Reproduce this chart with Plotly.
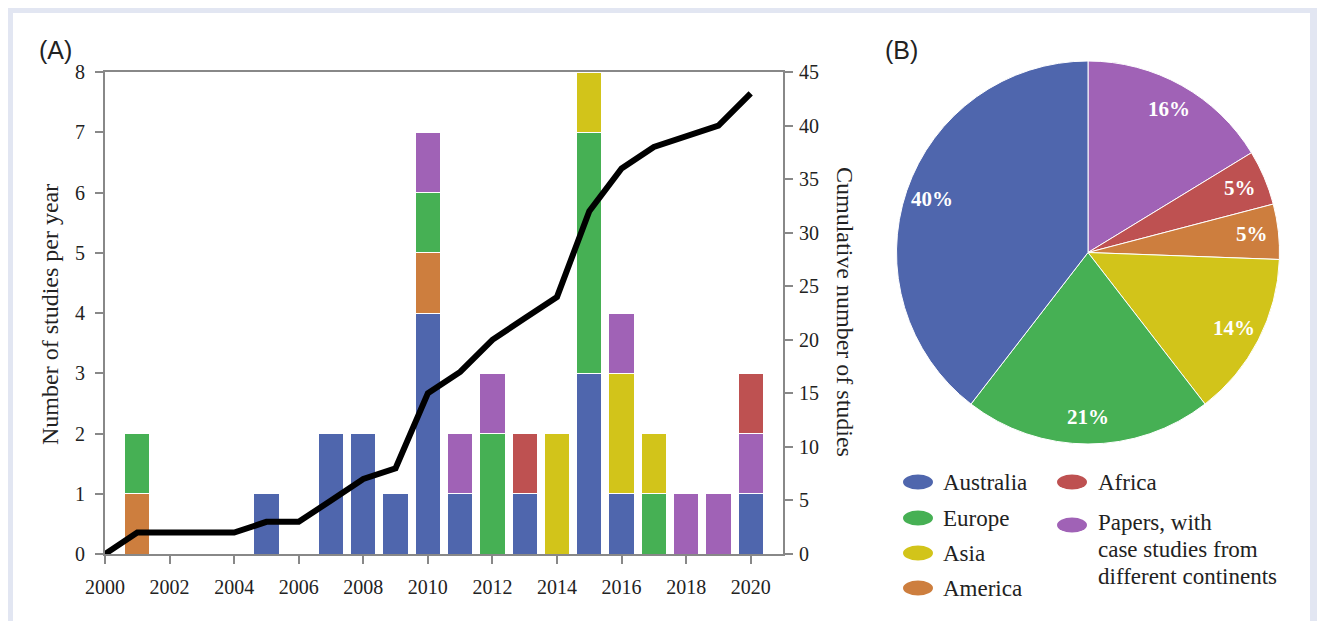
import math
import plotly.graph_objects as go

# ---- data -------------------------------------------------------------
years = list(range(2000, 2021))

# studies per year by region (stack order bottom -> top)
australia = [0, 0, 0, 0, 0, 1, 0, 2, 2, 1, 4, 1, 0, 1, 0, 3, 1, 0, 0, 0, 1]
america   = [0, 1, 0, 0, 0, 0, 0, 0, 0, 0, 1, 0, 0, 0, 0, 0, 0, 0, 0, 0, 0]
europe    = [0, 1, 0, 0, 0, 0, 0, 0, 0, 0, 1, 0, 2, 0, 0, 4, 0, 1, 0, 0, 0]
asia      = [0, 0, 0, 0, 0, 0, 0, 0, 0, 0, 0, 0, 0, 0, 2, 1, 2, 1, 0, 0, 0]
papers    = [0, 0, 0, 0, 0, 0, 0, 0, 0, 0, 1, 1, 1, 0, 0, 0, 1, 0, 1, 1, 1]
africa    = [0, 0, 0, 0, 0, 0, 0, 0, 0, 0, 0, 0, 0, 1, 0, 0, 0, 0, 0, 0, 1]

cumulative = [0, 2, 2, 2, 2, 3, 3, 5, 7, 8, 15, 17, 20, 22, 24, 32, 36, 38, 39, 40, 43]

# pie slices, clockwise from 12 o'clock
pie_labels = ["Papers", "Africa", "America", "Asia", "Europe", "Australia"]
pie_counts = [7, 2, 2, 6, 9, 17]

# legend entries: (key, text lines)
legend_col1 = [("Australia", ["Australia"]), ("Europe", ["Europe"]),
               ("Asia", ["Asia"]), ("America", ["America"])]
legend_col2 = [("Africa", ["Africa"]),
               ("Papers", ["Papers, with", "case studies from", "different continents"])]

x_ticks = list(range(2000, 2021, 2))

# ---- styling ----------------------------------------------------------
colors = {
    "Australia": "#4f66ad",
    "Europe": "#46b054",
    "Asia": "#d2c41a",
    "America": "#cd7e3e",
    "Africa": "#be5151",
    "Papers": "#a062b6",
}
W, H = 1317, 621
SERIF = "Liberation Serif, Times New Roman, Times, serif"
SANS = "Liberation Sans, Arial, Helvetica, sans-serif"
INK = "#222222"
AXIS = "#888888"


def px(x):
    return x / W


def py(y):
    return 1 - y / H


fig = go.Figure()

stacks = [("Australia", australia), ("America", america), ("Europe", europe),
          ("Asia", asia), ("Papers", papers), ("Africa", africa)]
for name, vals in stacks:
    fig.add_trace(go.Bar(
        x=years, y=[v if v else None for v in vals], name=name,
        marker=dict(color=colors[name], line=dict(color="white", width=1)),
        width=0.78, showlegend=False, yaxis="y",
    ))

fig.add_trace(go.Scatter(
    x=years, y=cumulative, mode="lines", yaxis="y2",
    line=dict(color="black", width=6), showlegend=False,
))

# pie geometry (pixels)
PIE_CX, PIE_CY, PIE_R = 1088, 252.5, 191.5
fig.add_trace(go.Pie(
    labels=pie_labels, values=pie_counts, sort=False, direction="clockwise",
    rotation=0, marker=dict(colors=[colors[k] for k in pie_labels],
                            line=dict(color="white", width=1)),
    textinfo="none", hoverinfo="label+percent",
    domain=dict(x=[px(PIE_CX - PIE_R), px(PIE_CX + PIE_R)],
                y=[py(PIE_CY + PIE_R), py(PIE_CY - PIE_R)]),
    showlegend=False,
))

# percentage labels placed along each slice's mid-angle
total = sum(pie_counts)
start = 0.0
for count in pie_counts:
    frac = count / total
    mid = (start + frac / 2) * 2 * math.pi
    start += frac
    r = 0.86 * PIE_R
    lx = PIE_CX + r * math.sin(mid)
    ly = PIE_CY - r * math.cos(mid)
    fig.add_annotation(text=f"{round(frac * 100)}%", x=px(lx), y=py(ly),
                       xref="paper", yref="paper", showarrow=False,
                       xanchor="center", yanchor="middle",
                       font=dict(family=SERIF, size=21, color="white",
                                 weight="bold"))

axis_common = dict(showline=True, linecolor=AXIS, linewidth=2,
                   ticks="outside", ticklen=8, tickcolor=AXIS, tickwidth=1.5,
                   showgrid=False, zeroline=False, automargin=False,
                   tickfont=dict(family=SERIF, size=20, color=INK))

fig.update_layout(
    width=W, height=H,
    margin=dict(l=0, r=0, t=0, b=0, pad=0, autoexpand=False),
    paper_bgcolor="white", plot_bgcolor="white",
    barmode="stack",
    xaxis=dict(domain=[px(105), px(783)], range=[2000, 2021],
               tickvals=x_ticks, mirror=True, ticklabelstandoff=6,
               **axis_common),
    yaxis=dict(domain=[py(554), py(72)], range=[0, 8], dtick=1,
               mirror=True, ticklabelstandoff=6, **axis_common),
    yaxis2=dict(overlaying="y", side="right", range=[0, 45], dtick=5,
                anchor="x", ticklabelstandoff=2, **axis_common),
)

# page frame
fig.add_shape(type="rect", xref="paper", yref="paper",
              x0=px(8), x1=px(1317), y0=py(621), y1=py(8),
              fillcolor="#e2e6f2", line=dict(width=0), layer="below")
fig.add_shape(type="rect", xref="paper", yref="paper",
              x0=px(13), x1=px(1310), y0=py(621), y1=py(13),
              fillcolor="white", line=dict(width=0), layer="below")


def note(text, x, y, font, angle=0, xanchor="center"):
    fig.add_annotation(text=text, x=px(x), y=py(y), xref="paper",
                       yref="paper", showarrow=False, textangle=angle,
                       xanchor=xanchor, yanchor="middle", font=font)


# panel tags
note("(A)", 55, 50, dict(family=SANS, size=25, color=INK))
note("(B)", 901, 50, dict(family=SANS, size=25, color=INK))

# axis titles
note("Number of studies per year", 50, 315,
     dict(family=SERIF, size=24, color=INK), angle=-90)
note("Cumulative number of studies", 845, 312,
     dict(family=SERIF, size=24, color=INK), angle=90)

# legend under the pie
LEG_FONT = dict(family=SERIF, size=23, color=INK)
row_y = [482, 518, 553, 588]
line_gap = 27


def legend_entry(key, lines, cx, tx, y_marker, y_text):
    fig.add_shape(type="circle", xref="paper", yref="paper",
                  x0=px(cx - 15), x1=px(cx + 15),
                  y0=py(y_marker + 7.5), y1=py(y_marker - 7.5),
                  fillcolor=colors[key], line=dict(width=0))
    for i, line in enumerate(lines):
        note(line, tx, y_text + i * line_gap, LEG_FONT, xanchor="left")


for (key, lines), ry in zip(legend_col1, row_y):
    legend_entry(key, lines, 918, 941, ry, ry)
legend_entry(legend_col2[0][0], legend_col2[0][1], 1072, 1096, row_y[0], row_y[0])
legend_entry(legend_col2[1][0], legend_col2[1][1], 1072, 1096, 525, 522)

fig.write_html(
    "out.html",
    post_script="document.body.style.margin='0';"
                "document.body.style.overflow='hidden';",
)
